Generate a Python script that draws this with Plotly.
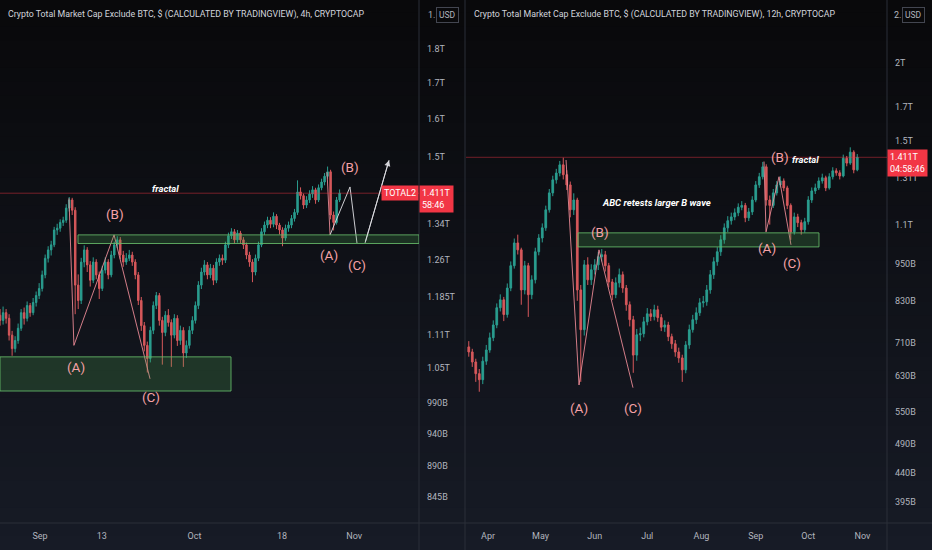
import numpy as np
import pandas as pd
import plotly.graph_objects as go

# ---- left chart: TOTAL2, values in trillions USD (bars) ----
left_start = "2021-08-24 06:00"
left_first_open = 1.148
left_close = [1.138, 1.153, 1.142, 1.110, 1.085, 1.100, 1.123, 1.153, 1.142, 1.167,
              1.153, 1.173, 1.187, 1.201, 1.229, 1.264, 1.282, 1.293, 1.326, 1.330,
              1.343, 1.348, 1.376, 1.395, 1.371, 1.208, 1.177, 1.256, 1.282, 1.250,
              1.218, 1.256, 1.229, 1.201, 1.239, 1.256, 1.229, 1.271, 1.293, 1.304,
              1.271, 1.256, 1.264, 1.271, 1.256, 1.229, 1.177, 1.128, 1.091, 1.067,
              1.119, 1.167, 1.187, 1.138, 1.115, 1.148, 1.134, 1.110, 1.142, 1.100,
              1.119, 1.077, 1.091, 1.119, 1.138, 1.167, 1.208, 1.235, 1.250, 1.229,
              1.243, 1.218, 1.256, 1.264, 1.260, 1.293, 1.313, 1.322, 1.304, 1.319,
              1.304, 1.293, 1.271, 1.256, 1.235, 1.264, 1.293, 1.322, 1.337, 1.348,
              1.339, 1.357, 1.337, 1.326, 1.308, 1.330, 1.337, 1.352, 1.366, 1.414,
              1.405, 1.383, 1.395, 1.409, 1.419, 1.395, 1.424, 1.438, 1.452, 1.463,
              1.360, 1.343, 1.395, 1.411]
left_high = [1.160, 1.165, 1.160, 1.150, 1.118, 1.108, 1.132, 1.160, 1.163, 1.175,
             1.172, 1.182, 1.195, 1.212, 1.238, 1.272, 1.290, 1.302, 1.333, 1.340,
             1.350, 1.356, 1.385, 1.402, 1.400, 1.378, 1.230, 1.265, 1.292, 1.288,
             1.258, 1.266, 1.262, 1.236, 1.248, 1.266, 1.262, 1.280, 1.300, 1.312,
             1.310, 1.280, 1.275, 1.282, 1.278, 1.262, 1.235, 1.184, 1.135, 1.098,
             1.126, 1.175, 1.194, 1.192, 1.145, 1.156, 1.160, 1.140, 1.150, 1.148,
             1.128, 1.125, 1.100, 1.127, 1.146, 1.175, 1.216, 1.244, 1.260, 1.256,
             1.252, 1.250, 1.264, 1.272, 1.272, 1.300, 1.320, 1.330, 1.328, 1.326,
             1.324, 1.310, 1.298, 1.278, 1.262, 1.272, 1.300, 1.330, 1.345, 1.356,
             1.355, 1.366, 1.362, 1.342, 1.332, 1.338, 1.345, 1.360, 1.374, 1.442,
             1.425, 1.410, 1.404, 1.418, 1.428, 1.424, 1.432, 1.446, 1.460, 1.476,
             1.468, 1.368, 1.402, 1.420]
left_low = [1.128, 1.130, 1.132, 1.100, 1.072, 1.078, 1.094, 1.118, 1.130, 1.136,
            1.145, 1.148, 1.165, 1.180, 1.195, 1.222, 1.255, 1.270, 1.288, 1.315,
            1.322, 1.335, 1.342, 1.368, 1.360, 1.150, 1.160, 1.170, 1.245, 1.235,
            1.205, 1.212, 1.220, 1.180, 1.196, 1.232, 1.220, 1.224, 1.264, 1.286,
            1.262, 1.246, 1.250, 1.258, 1.248, 1.220, 1.168, 1.118, 1.080, 1.042,
            1.060, 1.112, 1.160, 1.128, 1.056, 1.108, 1.126, 1.052, 1.104, 1.090,
            1.092, 1.052, 1.068, 1.085, 1.112, 1.132, 1.160, 1.200, 1.228, 1.220,
            1.222, 1.208, 1.212, 1.248, 1.250, 1.254, 1.286, 1.306, 1.296, 1.298,
            1.296, 1.284, 1.262, 1.246, 1.214, 1.228, 1.258, 1.288, 1.315, 1.330,
            1.330, 1.332, 1.328, 1.316, 1.290, 1.302, 1.322, 1.330, 1.345, 1.360,
            1.396, 1.374, 1.376, 1.388, 1.400, 1.386, 1.390, 1.418, 1.430, 1.446,
            1.350, 1.325, 1.338, 1.390]

# ---- right chart: same index, 12h chart (read as 2-day bars) ----
right_start = "2021-03-21"
right_first_open = 0.700
right_close = [0.687, 0.662, 0.634, 0.620, 0.664, 0.692, 0.724, 0.759, 0.809, 0.833,
               0.789, 0.870, 0.945, 1.028, 1.002, 0.864, 0.945, 0.849, 0.897, 0.995,
               1.047, 1.087, 1.162, 1.237, 1.298, 1.331, 1.372, 1.323, 1.274, 1.162,
               1.205, 0.864, 0.746, 0.948, 0.897, 0.931, 0.948, 0.977, 0.984, 0.945,
               0.890, 0.849, 0.887, 0.914, 0.870, 0.818, 0.774, 0.679, 0.732, 0.735,
               0.768, 0.791, 0.783, 0.803, 0.780, 0.753, 0.759, 0.727, 0.708, 0.687,
               0.672, 0.643, 0.705, 0.746, 0.774, 0.794, 0.824, 0.827, 0.864, 0.914,
               0.959, 0.995, 1.040, 1.087, 1.116, 1.132, 1.149, 1.173, 1.181, 1.128,
               1.153, 1.205, 1.274, 1.313, 1.362, 1.205, 1.181, 1.237, 1.274, 1.293,
               1.260, 1.181, 1.071, 1.132, 1.108, 1.079, 1.112, 1.205, 1.246, 1.260,
               1.293, 1.308, 1.260, 1.313, 1.342, 1.332, 1.317, 1.406, 1.381, 1.438,
               1.347, 1.411]
right_high = [0.715, 0.695, 0.670, 0.645, 0.675, 0.705, 0.738, 0.772, 0.822, 0.850,
              0.842, 0.885, 0.960, 1.045, 1.060, 1.010, 0.962, 0.955, 0.912, 1.010,
              1.062, 1.105, 1.180, 1.255, 1.318, 1.352, 1.392, 1.409, 1.345, 1.290,
              1.235, 1.215, 0.880, 0.965, 0.975, 0.950, 0.968, 0.995, 1.005, 0.998,
              0.955, 0.900, 0.905, 0.935, 0.925, 0.880, 0.828, 0.785, 0.748, 0.752,
              0.782, 0.808, 0.805, 0.818, 0.815, 0.790, 0.772, 0.768, 0.735, 0.718,
              0.698, 0.680, 0.715, 0.760, 0.788, 0.810, 0.838, 0.845, 0.880, 0.930,
              0.975, 1.012, 1.058, 1.105, 1.135, 1.150, 1.168, 1.190, 1.200, 1.192,
              1.170, 1.222, 1.292, 1.332, 1.387, 1.375, 1.225, 1.255, 1.292, 1.315,
              1.305, 1.270, 1.190, 1.150, 1.145, 1.120, 1.128, 1.222, 1.262, 1.280,
              1.310, 1.328, 1.318, 1.330, 1.360, 1.355, 1.345, 1.425, 1.418, 1.464,
              1.448, 1.428]
right_low = [0.675, 0.650, 0.615, 0.593, 0.610, 0.655, 0.685, 0.715, 0.750, 0.798,
             0.770, 0.780, 0.860, 0.935, 0.985, 0.818, 0.850, 0.782, 0.835, 0.885,
             0.982, 1.030, 1.075, 1.150, 1.222, 1.280, 1.315, 1.300, 1.250, 1.130,
             1.140, 0.830, 0.615, 0.730, 0.880, 0.880, 0.915, 0.930, 0.960, 0.925,
             0.872, 0.832, 0.838, 0.872, 0.855, 0.800, 0.755, 0.636, 0.665, 0.715,
             0.725, 0.758, 0.770, 0.772, 0.768, 0.742, 0.740, 0.715, 0.695, 0.675,
             0.660, 0.615, 0.635, 0.695, 0.738, 0.762, 0.785, 0.810, 0.815, 0.852,
             0.900, 0.945, 0.980, 1.025, 1.070, 1.100, 1.118, 1.135, 1.160, 1.110,
             1.115, 1.140, 1.195, 1.260, 1.300, 1.180, 1.100, 1.170, 1.225, 1.262,
             1.245, 1.165, 1.040, 1.060, 1.090, 1.060, 1.068, 1.100, 1.192, 1.232,
             1.250, 1.280, 1.245, 1.252, 1.300, 1.318, 1.300, 1.310, 1.365, 1.372,
             1.330, 1.340]

last_price = 1.411

left_yticks = [0.845, 0.89, 0.94, 0.99, 1.05, 1.11, 1.185, 1.26, 1.34, 1.5, 1.6, 1.7, 1.8]
left_ylabels = ["845B", "890B", "940B", "990B", "1.05T", "1.11T", "1.185T", "1.26T",
                "1.34T", "1.5T", "1.6T", "1.7T", "1.8T"]
right_yticks = [0.395, 0.44, 0.49, 0.55, 0.63, 0.71, 0.83, 0.95, 1.1, 1.31, 1.5, 1.7, 2.0]
right_ylabels = ["395B", "440B", "490B", "550B", "630B", "710B", "830B", "950B",
                 "1.1T", "1.31T", "1.5T", "1.7T", "2T"]
left_xticks = ["2021-09-01", "2021-09-13", "2021-10-01", "2021-10-18", "2021-11-01"]
left_xlabels = ["Sep", "13", "Oct", "18", "Nov"]
right_xticks = ["2021-04-01", "2021-05-01", "2021-06-01", "2021-07-01",
                "2021-08-01", "2021-09-01", "2021-10-01", "2021-11-01"]
right_xlabels = ["Apr", "May", "Jun", "Jul", "Aug", "Sep", "Oct", "Nov"]

left_xrange = ["2021-08-24 05:35", "2021-11-13 14:00"]
left_yrange = [0.808, 1.956]
right_xrange = ["2021-03-19 10:00", "2021-11-15 00:00"]
right_yrange = [0.365, 2.524]

# drawings
left_abc_x = ["2021-09-06 15:00", "2021-09-07 14:00", "2021-09-15 09:00", "2021-09-22 08:40"]
left_abc_y = [1.399, 1.091, 1.315, 1.031]
left_drop_x = ["2021-10-26 17:30", "2021-10-27 07:30"]
left_drop_y = [1.462, 1.315]
left_proj_x = ["2021-10-27 07:30", "2021-10-31 04:30", "2021-11-01 13:00"]
left_proj_y = [1.315, 1.426, 1.297]
left_arrow_x = ["2021-11-03 02:30", "2021-11-07 18:30"]
left_arrow_y = [1.297, 1.492]
left_box_hi = ["2021-09-08 09:00", left_xrange[1], 1.296, 1.315]
left_box_lo = [left_xrange[0], "2021-10-08 02:00", 1.010, 1.070]
left_waves = [("(A)", "2021-09-08 00:00", 1.051), ("(B)", "2021-09-15 13:30", 1.362),
              ("(C)", "2021-09-22 13:00", 0.999), ("(A)", "2021-10-27 03:00", 1.271),
              ("(B)", "2021-10-31 04:30", 1.475), ("(C)", "2021-11-01 13:00", 1.250)]
left_notes = [("fractal", "2021-09-25 11:00", 1.423)]

right_abc1_x = ["2021-05-15 14:00", "2021-05-23 00:00", "2021-06-03 10:00", "2021-06-22 20:00"]
right_abc1_y = [1.397, 0.608, 1.002, 0.602]
right_abc2_x = ["2021-09-05 17:00", "2021-09-06 21:00", "2021-09-14 07:00", "2021-09-21 03:00"]
right_abc2_y = [1.389, 1.071, 1.313, 1.021]
right_box = ["2021-05-22 10:00", "2021-10-07 03:00", 1.013, 1.067]
right_waves = [("(A)", "2021-05-23 00:00", 0.559), ("(B)", "2021-06-04 00:00", 1.071),
               ("(C)", "2021-06-22 20:00", 0.559), ("(A)", "2021-09-07 10:00", 1.010),
               ("(B)", "2021-09-14 22:00", 1.413), ("(C)", "2021-09-21 17:00", 0.955)]
right_notes = [("fractal", "2021-09-29 17:00", 1.398),
               ("ABC retests larger B wave", "2021-07-06 00:00", 1.192)]

W, H = 932, 550
FONT = "Roboto, sans-serif"
UP, DOWN = "#2a9d8f", "#d6585b"
PINK = "#f4a1a6"
GRID = "#2a2e39"
XL, XR = 419 / W, 466 / W
XR2 = 887 / W
YB = 27 / H

fig = go.Figure()


def candles(start, freq, first_open, close, high, low, xa, ya):
    opens = [first_open] + close[:-1]
    dates = pd.date_range(start, periods=len(close), freq=freq)
    fig.add_trace(go.Candlestick(
        x=dates, open=opens, high=high, low=low, close=close,
        xaxis=xa, yaxis=ya, whiskerwidth=0, showlegend=False, hoverinfo="skip",
        increasing=dict(line=dict(color=UP, width=1), fillcolor=UP),
        decreasing=dict(line=dict(color=DOWN, width=1), fillcolor=DOWN)))


def line(xs, ys, color, xa, ya, width=1):
    fig.add_trace(go.Scatter(x=xs, y=ys, mode="lines", xaxis=xa, yaxis=ya,
                             line=dict(color=color, width=width),
                             showlegend=False, hoverinfo="skip"))


candles(left_start, "14h", left_first_open, left_close, left_high, left_low, "x", "y")
candles(right_start, "2D", right_first_open, right_close, right_high, right_low, "x2", "y2")

# background gradient (dark top to navy bottom)
n = 40
for i in range(n):
    t = i / (n - 1)
    c = (int(9 + 14 * t), int(9 + 18 * t), int(11 + 27 * t))
    fig.add_shape(type="rect", xref="paper", yref="paper", x0=0, x1=1,
                  y0=1 - (i + 1) / n, y1=1 - i / n + 0.002, layer="below",
                  line_width=0, fillcolor="rgb(%d,%d,%d)" % c)

# panel separators
for xp in [XL, 465 / W, XR2]:
    fig.add_shape(type="line", xref="paper", yref="paper", x0=xp, x1=xp, y0=0, y1=1,
                  line=dict(color=GRID, width=1))
fig.add_shape(type="line", xref="paper", yref="paper", x0=0, x1=1, y0=YB, y1=YB,
              line=dict(color=GRID, width=1))

# boxes
for (x0, x1, y0, y1), xa, ya in [(left_box_hi, "x", "y"), (left_box_lo, "x", "y"),
                                  (right_box, "x2", "y2")]:
    fig.add_shape(type="rect", xref=xa, yref=ya, x0=x0, x1=x1, y0=y0, y1=y1,
                  line=dict(color="rgba(102,187,106,0.85)", width=1),
                  fillcolor="rgba(76,175,80,0.22)")

# last price lines
for xa, ya in [("x", "y"), ("x2", "y2")]:
    fig.add_shape(type="line", xref=xa + " domain", yref=ya, x0=0, x1=1,
                  y0=last_price, y1=last_price,
                  line=dict(color="rgba(242,54,69,0.45)", width=1))

# wave drawings
line(left_abc_x, left_abc_y, "rgba(244,143,155,0.85)", "x", "y")
line(left_drop_x, left_drop_y, "rgba(244,143,155,0.85)", "x", "y")
line(left_proj_x, left_proj_y, "rgba(225,225,230,0.9)", "x", "y")
line(left_arrow_x, left_arrow_y, "rgba(225,225,230,0.9)", "x", "y")
line(right_abc1_x, right_abc1_y, "rgba(244,143,155,0.85)", "x2", "y2")
line(right_abc2_x, right_abc2_y, "rgba(244,143,155,0.85)", "x2", "y2")

ann = []
ann.append(dict(x=left_arrow_x[1], y=np.log10(left_arrow_y[1]), xref="x", yref="y",
                ax=left_arrow_x[0], ay=np.log10(left_arrow_y[0]), axref="x", ayref="y",
                showarrow=True, arrowhead=2, arrowsize=1.2, arrowwidth=1,
                arrowcolor="rgba(225,225,230,0.9)", text=""))

for waves, xa, ya in [(left_waves, "x", "y"), (right_waves, "x2", "y2")]:
    for txt, xv, yv in waves:
        ann.append(dict(x=xv, y=np.log10(yv), xref=xa, yref=ya, text=txt,
                        showarrow=False, font=dict(family=FONT, size=13.5, color=PINK)))
for notes, xa, ya in [(left_notes, "x", "y"), (right_notes, "x2", "y2")]:
    for txt, xv, yv in notes:
        ann.append(dict(x=xv, y=np.log10(yv), xref=xa, yref=ya,
                        text="<b><i>" + txt + "</i></b>", showarrow=False,
                        font=dict(family="Roboto, sans-serif", size=9.5,
                                  color="#ffffff")))

# price tags
ann.append(dict(x=1, y=np.log10(last_price), xref="x domain", yref="y", xanchor="right",
                yanchor="middle", text="TOTAL2", showarrow=False, bgcolor="#f23645",
                borderpad=2, font=dict(family=FONT, size=9, color="#ffffff")))
for xa, ya, sub in [("x", "y", "58:46"), ("x2", "y2", "04:58:46")]:
    ann.append(dict(x=1, y=np.log10(last_price), xref=xa + " domain", yref=ya,
                    xanchor="left", yanchor="top", yshift=8, text=f"{last_price}T<br>{sub}",
                    showarrow=False, bgcolor="#f23645", borderpad=2, align="left",
                    font=dict(family=FONT, size=9, color="#ffffff")))

# titles and currency boxes
for xp, txt in [(6 / W, "4h"), (472 / W, "12h")]:
    ann.append(dict(x=xp, y=1 - 15 / H, xref="paper", yref="paper", xanchor="left",
                    yanchor="middle",
                    text="Crypto Total Market Cap Exclude BTC, $ (CALCULATED BY TRADINGVIEW), "
                         + txt + ", CRYPTOCAP",
                    showarrow=False, font=dict(family=FONT, size=8.8, color="#d1d4dc")))
for xp, lead in [(426 / W, "1."), (892 / W, "2.")]:
    ann.append(dict(x=xp, y=1 - 15 / H, xref="paper", yref="paper", xanchor="left",
                    yanchor="middle", text=lead, showarrow=False,
                    font=dict(family=FONT, size=9, color="#b2b5be")))
    ann.append(dict(x=xp + 10 / W, y=1 - 15 / H, xref="paper", yref="paper", xanchor="left",
                    yanchor="middle", text="USD", showarrow=False, bordercolor="#434651",
                    borderwidth=1, borderpad=2, font=dict(family=FONT, size=8.5, color="#b2b5be")))

xcommon = dict(type="date", showgrid=False, zeroline=False, showline=False, ticks="",
               tickfont=dict(family=FONT, size=9, color="#b2b5be"),
               rangeslider=dict(visible=False), ticklabelstandoff=6)
ycommon = dict(type="log", side="right", showgrid=False, zeroline=False, showline=False,
               ticks="", tickfont=dict(family=FONT, size=9, color="#b2b5be"),
               ticklabelstandoff=7, domain=[YB, 1])

fig.update_layout(
    width=W, height=H, margin=dict(l=0, r=0, t=0, b=0),
    paper_bgcolor="#131722", plot_bgcolor="rgba(0,0,0,0)",
    showlegend=False, hovermode=False, annotations=ann,
    xaxis=dict(xcommon, domain=[0, XL], range=left_xrange, anchor="y",
               tickvals=left_xticks, ticktext=left_xlabels),
    yaxis=dict(ycommon, anchor="x", range=list(np.log10(left_yrange)),
               tickvals=left_yticks, ticktext=left_ylabels),
    xaxis2=dict(xcommon, domain=[XR, XR2], range=right_xrange, anchor="y2",
                tickvals=right_xticks, ticktext=right_xlabels),
    yaxis2=dict(ycommon, anchor="x2", range=list(np.log10(right_yrange)),
                tickvals=right_yticks, ticktext=right_ylabels),
)

fig.write_html("out.html", config={"displayModeBar": False},
               post_script="document.body.style.margin='0';document.body.style.overflow='hidden';")
